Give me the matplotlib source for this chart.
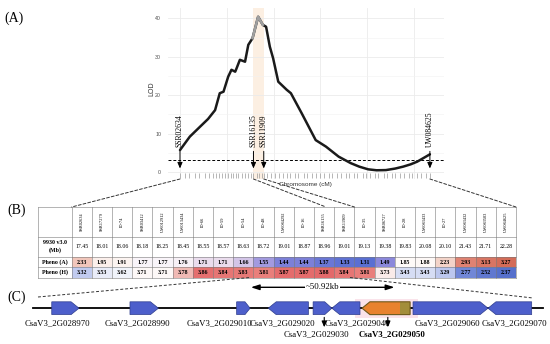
import numpy as np
import matplotlib.pyplot as plt
from matplotlib.patches import Polygon, Rectangle, ConnectionPatch
from matplotlib.colors import LinearSegmentedColormap, TwoSlopeNorm

serif = 'Liberation Serif'
sans = 'Liberation Sans'

# ---- (A) LOD curve ----
curve_cm = [0, 2.1, 4.3, 6.0, 7.5, 8.5, 9.3, 10.3, 11.0, 11.8, 12.1, 12.8, 13.9, 14.6, 15.5,
            16.7, 17.7, 18.4, 19.2, 19.9, 21.0, 22.8, 23.7, 26.0, 29.0, 31.2, 33.9, 36.5,
            38.3, 40.2, 42.0, 44.0, 46.0, 47.7, 49.3, 50.7, 53.4]
curve_lod = [5.7, 9.2, 11.8, 13.8, 16.1, 20.5, 20.9, 24.8, 26.6, 26.1, 27.0, 29.2, 28.7, 33.1, 34.8,
             40.4, 38.3, 37.8, 32.6, 29.6, 23.5, 21.4, 20.5, 15.3, 8.3, 6.6, 4.0, 2.3,
             1.4, 0.7, 0.45, 0.5, 0.9, 1.4, 2.0, 2.7, 4.6]
peak_range = (15.5, 17.7)      # grey part of the curve
band = (15.6, 17.95)           # shaded interval
threshold = 3.0
marker_names = ['SSR02634', 'SSR16135', 'SSR11909', 'UW084625']
marker_cm = [0, 15.7, 17.9, 53.4]
rug_cm = [0, 1.1, 2.0, 3.2, 4.1, 5.3, 6.1, 7.0, 7.7, 8.4, 9.0, 9.7, 10.2, 10.9, 11.4, 11.9,
          12.5, 13.2, 13.8, 14.5, 15.2, 15.7, 16.4, 16.9, 17.5, 17.9, 18.7, 19.5, 20.2, 21.2,
          22.0, 22.9, 23.5, 24.6, 25.3, 26.4, 27.1, 28.2, 29.0, 30.0, 30.7, 31.8, 32.5, 33.6,
          34.3, 35.4, 36.1, 37.2, 37.9, 39.0, 39.8, 40.6, 41.7, 42.4, 43.5, 44.2, 45.3, 46.0,
          47.1, 47.8, 48.9, 49.6, 50.7, 51.4, 52.5, 53.4]

# ---- (B) table ----
snp_names = ['SSR02634', 'SSR17279', 'ID-74', 'SSR03412', 'UW012912', 'UW013434', 'ID-66',
             'ID-59', 'ID-54', 'ID-48', 'UW084292', 'ID-16', 'SSR16135', 'SSR11909', 'ID-35',
             'SSR06727', 'ID-28', 'UW083433', 'ID-27', 'UW083432', 'UW083503', 'UW084625']
pos_mb = [17.45, 18.01, 18.06, 18.18, 18.25, 18.45, 18.55, 18.57, 18.63, 18.72, 19.01,
          18.87, 18.96, 19.01, 19.13, 19.38, 19.83, 20.08, 20.10, 21.43, 21.71, 22.28]
pheno_a = [2.33, 1.95, 1.91, 1.77, 1.77, 1.76, 1.71, 1.71, 1.66, 1.55, 1.44,
           1.44, 1.37, 1.33, 1.31, 1.49, 1.85, 1.88, 2.23, 2.93, 3.13, 3.27]
pheno_h = [3.32, 3.53, 3.62, 3.71, 3.71, 3.78, 3.86, 3.84, 3.83, 3.81, 3.87,
           3.87, 3.88, 3.84, 3.81, 3.73, 3.43, 3.43, 3.29, 2.77, 2.52, 2.37]

# ---- (C) genes (kb) ----
gene_names = ['CsaV3_2G028970', 'CsaV3_2G028990', 'CsaV3_2G029010', 'CsaV3_2G029020',
              'CsaV3_2G029030', 'CsaV3_2G029040', 'CsaV3_2G029050', 'CsaV3_2G029060',
              'CsaV3_2G029070']
gene_start = [6.4, 33.1, 69.5, 80.3, 95.6, 102.0, 112.3, 129.7, 155.3]
gene_end = [15.7, 42.8, 74.1, 94.0, 102.0, 111.6, 128.7, 155.3, 170.2]
gene_strand = [1, 1, 1, -1, 1, -1, -1, 1, -1]
region_kb = 174.1
span_start = 73.4
span_kb = 50.92

# label layout (kb) and row
label_x = [8.2, 35.5, 63.8, 85.3, 96.6, 110.6, 122.5, 141.6, 164.2]
label_row = [0, 0, 0, 0, 1, 0, 1, 0, 0]

W, H = 550, 344
fig = plt.figure(figsize=(5.5, 3.44), dpi=100)

# overlay in pixel coordinates
ax_o = fig.add_axes([0, 0, 1, 1])
ax_o.set_xlim(0, W)
ax_o.set_ylim(H, 0)
ax_o.axis('off')

# ---------------- panel A ----------------
ax_a = fig.add_axes([168 / W, 1 - 179 / H, 275.7 / W, 170.7 / H])
ax_a.set_xlim(-2.56, 56.35)
ax_a.set_ylim(-1.82, 42.6)
for s in ax_a.spines.values():
    s.set_visible(False)
ax_a.set_xticks(np.arange(0, 60, 10))
ax_a.set_xticklabels([])
ax_a.set_yticks(np.arange(0, 50, 10))
ax_a.set_yticks(np.arange(5, 45, 10), minor=True)
ax_a.tick_params(which='both', length=0)
ax_a.tick_params(axis='y', labelsize=3.8, labelcolor='#4d4d4d', pad=5)
for lab in ax_a.get_yticklabels():
    lab.set_family(sans)
ax_a.grid(which='major', color='#ebebeb', lw=0.6)
ax_a.grid(which='minor', axis='y', color='#f2f2f2', lw=0.4)
ax_a.set_axisbelow(True)

ax_a.axvspan(band[0], band[1], color='#fcefe2', zorder=0.5, lw=0)
cm = np.array(curve_cm)
lod = np.array(curve_lod)
ax_a.plot(cm, lod, color='#1a1a1a', lw=1.8, solid_capstyle='round', zorder=3)
sel = (cm >= peak_range[0]) & (cm <= peak_range[1])
ax_a.plot(cm[sel], lod[sel], color='#a0a0a0', lw=1.8, zorder=3.5)
ax_a.axhline(threshold, color='black', lw=0.7, ls=(0, (3, 2)), zorder=2)
ax_a.vlines(rug_cm, -1.65, -0.35, color='#9a9a9a', lw=0.5)

for name, x in zip(marker_names, marker_cm):
    ax_a.text(x, 6.4, name, rotation=90, ha='center', va='bottom',
              family=serif, fontsize=5.5, zorder=5)
    ax_a.annotate('', xy=(x, 0.2), xytext=(x, 6.1),
                  arrowprops=dict(arrowstyle='-|>,head_length=0.35,head_width=0.15',
                                  color='black', lw=0.7), zorder=5)

ax_a.text(0.5, -0.035, 'Chromosome (cM)', transform=ax_a.transAxes, ha='center',
          va='center', fontsize=4.6, family=sans, color='#333333')
ax_a.text(-0.058, 0.53, 'LOD', transform=ax_a.transAxes, rotation=90, ha='center',
          va='center', fontsize=5, family=sans, color='#333333')

# ---------------- panel B: table ----------------
tx0, tx1 = 38, 516
xl = 71.7
cw = (tx1 - xl) / len(pos_mb)
rows = [207, 237, 256.5, 267, 277.5]

cmap_a = LinearSegmentedColormap.from_list('pa', [(0, '#5a6fd2'), (0.2, '#8f8adc'), (0.33, '#c7b9e6'),
                                                   (0.42, '#efe2ee'), (0.5, '#ffffff'),
                                                   (0.64, '#f4d6cb'), (0.85, '#e3897a'),
                                                   (1.0, '#d36c58')])
cmap_h = LinearSegmentedColormap.from_list('ph', [(0, '#5670cc'), (0.16, '#7288d8'), (0.35, '#bcc7ee'),
                                                   (0.45, '#eceff9'), (0.55, '#ffffff'),
                                                   (0.72, '#f3d0cb'), (0.82, '#e9807c'),
                                                   (1.0, '#e3696a')])
norm_a = TwoSlopeNorm(vmin=min(pheno_a), vcenter=1.8, vmax=max(pheno_a))
norm_h = TwoSlopeNorm(vmin=min(pheno_h), vcenter=3.68, vmax=max(pheno_h))

for i in range(len(pos_mb)):
    x = xl + i * cw
    ax_o.add_patch(Rectangle((x, rows[2]), cw, rows[3] - rows[2],
                             facecolor=cmap_a(norm_a(pheno_a[i])), lw=0))
    ax_o.add_patch(Rectangle((x, rows[3]), cw, rows[4] - rows[3],
                             facecolor=cmap_h(norm_h(pheno_h[i])), lw=0))
    ax_o.text(x + cw / 2, (rows[0] + rows[1]) / 2, snp_names[i], rotation=90, ha='center',
              va='center', fontsize=3.2, family=serif)
    ax_o.text(x + cw / 2, (rows[1] + rows[2]) / 2, f'{pos_mb[i]:.2f}', ha='center',
              va='center', fontsize=4.2, family=serif)
    ax_o.text(x + cw / 2, (rows[2] + rows[3]) / 2 + 0.3, f'{pheno_a[i]:.2f}', ha='center',
              va='center', fontsize=4.2, family=serif, weight='bold')
    ax_o.text(x + cw / 2, (rows[3] + rows[4]) / 2 + 0.3, f'{pheno_h[i]:.2f}', ha='center',
              va='center', fontsize=4.2, family=serif, weight='bold')

for i in range(len(pos_mb) + 1):
    x = xl + i * cw
    ax_o.plot([x, x], [rows[0], rows[-1]], color='#7a7a7a', lw=0.4)
ax_o.plot([tx0, tx0], [rows[0], rows[-1]], color='#7a7a7a', lw=0.4)
for y in rows:
    ax_o.plot([tx0, tx1], [y, y], color='#7a7a7a', lw=0.4)

lx = (tx0 + xl) / 2
ax_o.text(lx, (rows[1] + rows[2]) / 2, '9930 v3.0\n(Mb)', ha='center', va='center',
          fontsize=4.3, family=serif, weight='bold', linespacing=1.5)
ax_o.text(lx, (rows[2] + rows[3]) / 2 + 0.3, 'Pheno (A)', ha='center', va='center',
          fontsize=4.3, family=serif, weight='bold')
ax_o.text(lx, (rows[3] + rows[4]) / 2 + 0.3, 'Pheno (H)', ha='center', va='center',
          fontsize=4.3, family=serif, weight='bold')

# dashed guides A -> B
targets = [xl, 326, 354.5, tx1]
for x_cm, xt in zip(marker_cm, targets):
    con = ConnectionPatch(xyA=(x_cm, -1.82), coordsA=ax_a.transData,
                          xyB=(xt, rows[0]), coordsB=ax_o.transData,
                          color='#333333', lw=0.7, ls=(0, (3, 2)))
    fig.add_artist(con)

# ---------------- panel C: genes ----------------
ax_c = fig.add_axes([0, 0, 1, 64 / H])
ax_c.set_xlim(-33 / 2.93, (W - 33) / 2.93)
ax_c.set_ylim(H, 280)
ax_c.axis('off')
ax_c.patch.set_alpha(0)

gy, gh = 308.2, 6.4
ax_c.add_patch(Rectangle((110.0, 298.5), 21.5, 19.5, facecolor='#fae3ea', lw=0, zorder=0.5))
ax_c.plot([0, region_kb], [gy, gy], color='black', lw=1.3, zorder=1)

for k, (s, e, d) in enumerate(zip(gene_start, gene_end, gene_strand)):
    tip = min(2.7, 0.38 * (e - s))
    if d > 0:
        pts = [(s, gy - gh), (e - tip, gy - gh), (e, gy), (e - tip, gy + gh), (s, gy + gh)]
    else:
        pts = [(s, gy), (s + tip, gy - gh), (e, gy - gh), (e, gy + gh), (s + tip, gy + gh)]
    if gene_names[k] == 'CsaV3_2G029050':
        ax_c.add_patch(Polygon(pts, closed=True, facecolor='#e8822e', lw=0, zorder=2))
        ax_c.add_patch(Rectangle((e - 3.4, gy - gh), 3.4, 2 * gh, facecolor='#a38d3a',
                                 lw=0, zorder=2.1))
        ax_c.add_patch(Polygon(pts, closed=True, facecolor='none', edgecolor='#6e5a1c',
                               lw=0.8, zorder=2.2))
    else:
        ax_c.add_patch(Polygon(pts, closed=True, facecolor='#4d5fcb', edgecolor='#2e3d8c',
                               lw=0.5, zorder=2))

for k, name in enumerate(gene_names):
    bold = name == 'CsaV3_2G029050'
    y = 323.3 if label_row[k] == 0 else 334.5
    ax_c.text(label_x[k], y, name, ha='center', va='center', fontsize=6.3, family=serif,
              weight='bold' if bold else 'normal')
    if label_row[k] == 1:
        xm = (gene_start[k] + gene_end[k]) / 2 + 0.6
        ax_c.annotate('', xy=(xm, 330), xytext=(xm, gy + gh),
                      arrowprops=dict(arrowstyle='-|>,head_length=0.35,head_width=0.15',
                                      color='black', lw=0.8))

ax_c.annotate('', xy=(span_start, 287.3), xytext=(span_start + span_kb, 287.3),
              arrowprops=dict(arrowstyle='<|-|>,head_length=0.5,head_width=0.16',
                              color='black', lw=1.0))
ax_c.text(span_start + span_kb / 2, 287.3, '~' + f'{span_kb:.2f}' + 'kb', ha='center',
          va='center', fontsize=6.3, family=serif,
          bbox=dict(facecolor='white', edgecolor='none', pad=0.5))

# dashed guides B -> C
ax_o.plot([38, 250], [297, rows[-1]], color='#333333', lw=0.7, ls=(0, (3, 2)))
ax_o.plot([350, 533], [rows[-1], 298], color='#333333', lw=0.7, ls=(0, (3, 2)))

# panel letters
for lab, x, y in [('(A)', 4, 18), ('(B)', 7, 210), ('(C)', 7, 297)]:
    ax_o.text(x, y, lab, ha='left', va='center', fontsize=10, family=serif)

fig.savefig('out.png', dpi=100)
